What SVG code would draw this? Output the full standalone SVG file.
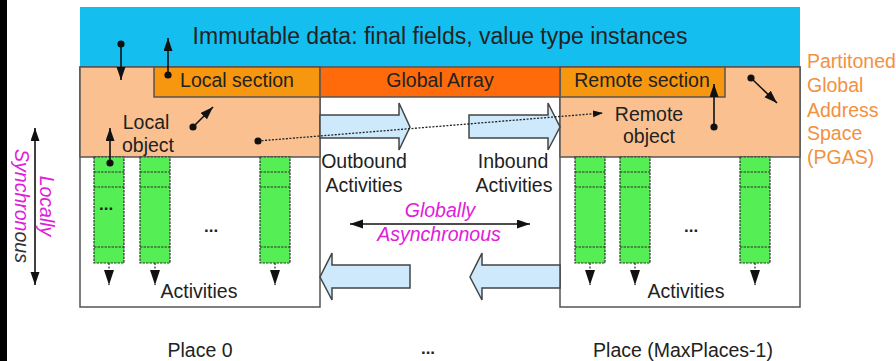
<svg xmlns="http://www.w3.org/2000/svg" width="896" height="361" viewBox="0 0 896 361">
<style>
text{font-family:"Liberation Sans",Arial,sans-serif;font-size:19.5px;fill:#222}
.box{stroke:#555;stroke-width:1.5}
.peach{fill:#FAC08F}
.sec{fill:#F7960F}
.col{fill:#55EE55;stroke:#333;stroke-width:1.2;stroke-dasharray:2.5 1}
.cl{stroke:#333;stroke-width:1.2;stroke-dasharray:2.5 1}
.blk{fill:#CDE9FB;stroke:#444;stroke-width:1.5}
.ln{stroke:#111;stroke-width:1.6;fill:none}
.mag{fill:#E020D8;font-style:italic}
.pg{fill:#F2913F}
.mid{text-anchor:middle}
</style>
<defs>
<marker id="ah" markerWidth="14" markerHeight="10" refX="13" refY="4.5" orient="auto-start-reverse" markerUnits="userSpaceOnUse"><path d="M0,0 L13,4.5 L0,9 z" fill="#111"/></marker>
<marker id="ahc" markerWidth="16" markerHeight="11" refX="15" refY="5" orient="auto" markerUnits="userSpaceOnUse"><path d="M0,0 L15,5 L0,10 z" fill="#111"/></marker>
<marker id="ahs" markerWidth="11" markerHeight="8" refX="10" refY="3.5" orient="auto" markerUnits="userSpaceOnUse"><path d="M0,0 L10,3.5 L0,7 z" fill="#111"/></marker>
<marker id="dot" markerWidth="8" markerHeight="8" refX="4" refY="4" markerUnits="userSpaceOnUse"><circle cx="4" cy="4" r="3.6" fill="#111"/></marker>
<g id="column"><rect class="col" x="0" y="0" width="30" height="106"/><line class="cl" x1="0" y1="15" x2="30" y2="15"/><line class="cl" x1="0" y1="30" x2="30" y2="30"/><line class="cl" x1="0" y1="90" x2="30" y2="90"/></g>
</defs>
<rect x="0" y="0" width="896" height="361" fill="#fff"/>
<rect x="0" y="0" width="7" height="361" fill="#000"/>

<g id="immutable">
<rect x="80" y="7" width="720" height="60" fill="#14BFF0"/>
<text class="mid" x="440" y="44" style="font-size:23px">Immutable data: final fields, value type instances</text>
</g>

<g id="place0">
<rect class="box" x="80" y="67" width="240" height="240" fill="#fff"/>
<rect class="box peach" x="80" y="67" width="240" height="90"/>
<rect class="box sec" x="154" y="67" width="166" height="30"/>
<text class="mid" x="237" y="87">Local section</text>
<text class="mid" x="146" y="129">Local</text>
<text class="mid" x="148" y="152">object</text>
<use href="#column" x="94" y="157"/>
<use href="#column" x="140" y="157"/>
<use href="#column" x="260" y="157"/>
<text x="99" y="210" style="font-weight:bold;font-size:17px">...</text>
<text x="204" y="232" style="font-weight:bold;font-size:17px">...</text>
<text class="mid" x="199" y="298">Activities</text>
</g>

<g id="place1">
<rect class="box" x="560" y="67" width="240" height="240" fill="#fff"/>
<rect class="box peach" x="560" y="67" width="240" height="90"/>
<rect class="box sec" x="560" y="67" width="165" height="30"/>
<text class="mid" x="642" y="87">Remote section</text>
<text class="mid" x="649" y="121">Remote</text>
<text class="mid" x="649" y="143">object</text>
<use href="#column" x="575" y="157"/>
<use href="#column" x="620" y="157"/>
<use href="#column" x="740" y="157"/>
<text x="684" y="232" style="font-weight:bold;font-size:17px">...</text>
<text class="mid" x="686" y="298">Activities</text>
</g>

<g id="global-array">
<rect class="box" x="320" y="67" width="240" height="30" fill="#FF6A0A"/>
<text class="mid" x="440" y="87">Global Array</text>
</g>

<g id="activity-arrows">
<path class="blk" d="M320,115 H399 V103 L410,127 L399,150 V138 H320 Z"/>
<path class="blk" d="M469,115 H548 V103 L560,127 L548,150 V138 H469 Z"/>
<path class="blk" d="M410,265 H332 V253 L320,277 L332,300 V288 H410 Z"/>
<path class="blk" d="M560,265 H482 V253 L470,277 L482,300 V288 H560 Z"/>
<text class="mid" x="364" y="168">Outbound</text>
<text class="mid" x="364" y="192">Activities</text>
<text class="mid" x="513" y="168">Inbound</text>
<text class="mid" x="514" y="192">Activities</text>
</g>

<g id="connectors">
<line class="ln" x1="121" y1="44" x2="121" y2="80" marker-start="url(#dot)" marker-end="url(#ah)"/>
<line class="ln" x1="168" y1="75" x2="168" y2="38" marker-start="url(#dot)" marker-end="url(#ah)"/>
<line class="ln" x1="193" y1="127" x2="213" y2="107" marker-start="url(#dot)" marker-end="url(#ah)"/>
<line class="ln" x1="110" y1="163" x2="110" y2="128" marker-start="url(#dot)" marker-end="url(#ah)"/>
<line class="ln" x1="714" y1="127" x2="714" y2="84" marker-start="url(#dot)" marker-end="url(#ah)"/>
<line class="ln" x1="751" y1="78" x2="777" y2="103" marker-start="url(#dot)" marker-end="url(#ah)"/>
<line x1="258" y1="141" x2="603" y2="113" stroke="#222" stroke-width="1.3" stroke-dasharray="2 1.5" marker-start="url(#dot)" marker-end="url(#ahs)"/>
<g stroke="#222" stroke-width="1.2" stroke-dasharray="2 1.5">
<line x1="109" y1="263" x2="109" y2="285" marker-end="url(#ahc)"/>
<line x1="155" y1="263" x2="155" y2="285" marker-end="url(#ahc)"/>
<line x1="275" y1="263" x2="275" y2="285" marker-end="url(#ahc)"/>
<line x1="590" y1="263" x2="590" y2="285" marker-end="url(#ahc)"/>
<line x1="635" y1="263" x2="635" y2="285" marker-end="url(#ahc)"/>
<line x1="755" y1="263" x2="755" y2="285" marker-end="url(#ahc)"/>
</g>
<line class="ln" x1="350" y1="224" x2="530" y2="224" marker-start="url(#ah)" marker-end="url(#ah)"/>
<line class="ln" x1="35" y1="128" x2="35" y2="285" marker-start="url(#ah)" marker-end="url(#ah)"/>
</g>

<g id="labels">
<text class="mid mag" x="440" y="217">Globally</text>
<text class="mid mag" x="439" y="241">Asynchronous</text>
<text class="mid mag" transform="translate(40,206) rotate(90)">Locally</text>
<text class="mid" transform="translate(15,206) rotate(90)" style="font-style:italic"><tspan class="mag">Synchron</tspan><tspan style="fill:#333">ous</tspan></text>
<text class="pg" x="807" y="68">Partitoned</text>
<text class="pg" x="807" y="92">Global</text>
<text class="pg" x="807" y="117">Address</text>
<text class="pg" x="807" y="140">Space</text>
<text class="pg" x="807" y="164">(PGAS)</text>
<text class="mid" x="200" y="357">Place 0</text>
<text class="mid" x="428" y="354" style="font-weight:bold;font-size:17px">...</text>
<text class="mid" x="683" y="357">Place (MaxPlaces-1)</text>
</g>
</svg>
